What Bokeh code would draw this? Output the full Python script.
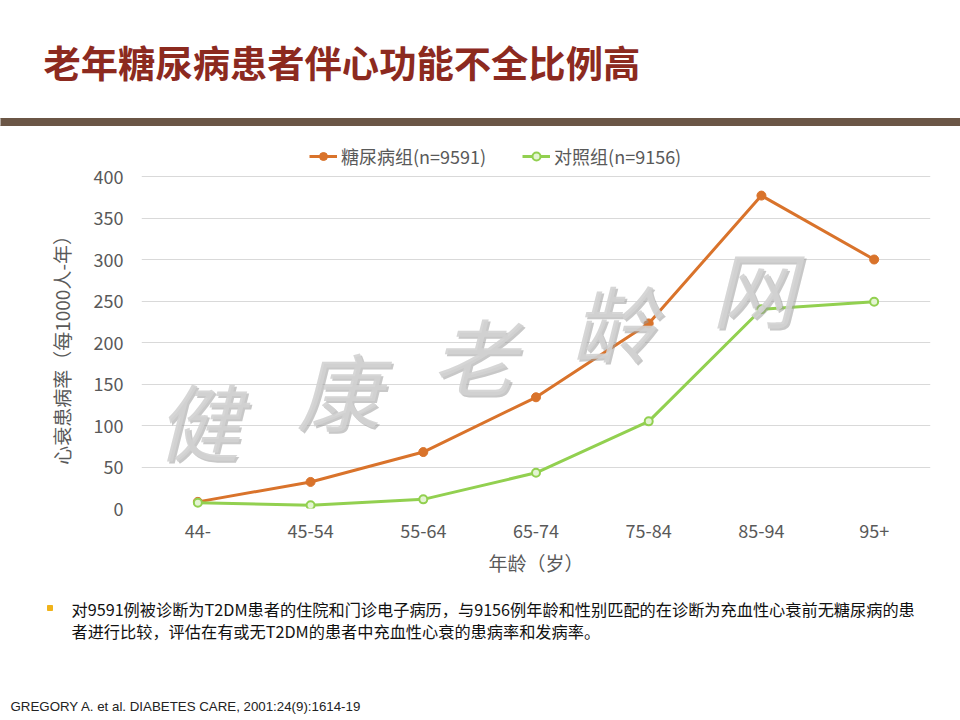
from bokeh.plotting import figure
from bokeh.models import (Range1d, FactorRange, Label, Legend, LegendItem,
                          ColumnDataSource, FixedTicker)
from bokeh.layouts import column
from bokeh.embed import file_html
from bokeh.resources import INLINE

# ---------------- data ----------------
categories = ["44-", "45-54", "55-64", "65-74", "75-84", "85-94", "95+"]
diabetes = [8, 32, 68, 134, 223, 377, 300]
control = [7, 4, 11, 43, 105, 240, 249]
y_ticks = [0, 50, 100, 150, 200, 250, 300, 350, 400]
series_names = ["糖尿病组(n=9591)", "对照组(n=9156)"]

title_text = "老年糖尿病患者伴心功能不全比例高"
y_label = "心衰患病率（每1000人-年）"
x_label = "年龄（岁）"
note_lines = [
    "对9591例被诊断为T2DM患者的住院和门诊电子病历，与9156例年龄和性别匹配的在诊断为充血性心衰前无糖尿病的患",
    "者进行比较，评估在有或无T2DM的患者中充血性心衰的患病率和发病率。",
]
citation = "GREGORY A. et al. DIABETES CARE, 2001:24(9):1614-19"
watermark_chars = ["健", "康", "老", "龄", "网"]

# ---------------- styles ----------------
W = 960
CJK = "Noto Sans CJK SC"
ORANGE = "#D9732B"
GREEN = "#92D050"
TXT = "#595959"


def base(fig):
    fig.outline_line_color = None
    fig.background_fill_color = "white"
    fig.border_fill_color = "white"
    if "frame_align" in fig.properties():
        fig.frame_align = False


def blank(fig):
    base(fig)
    fig.axis.visible = False
    fig.grid.visible = False


# ---------------- header ----------------
H1 = 130
header = figure(width=W, height=H1, x_range=Range1d(0, W), y_range=Range1d(H1, 0),
                output_backend="svg", toolbar_location=None, min_border=0)
blank(header)
header.quad(left=-5, right=W + 5, top=118, bottom=125, color="#6B5646")
header.add_layout(Label(x=43, y=61, text=title_text, text_font=CJK,
                        text_font_size="37.3px", text_font_style="bold",
                        text_color="#8C2A1F", text_baseline="middle"))

# ---------------- chart ----------------
H2 = 455
FRAME_H = 378           # frame spans from the top of this figure to the zero line
GRID_H = 332            # pixel height of 0..400
p = figure(width=W, height=H2, x_range=FactorRange(*categories),
           y_range=Range1d(0, 400 * FRAME_H / GRID_H),
           output_backend="svg", toolbar_location=None,
           min_border_left=141, min_border_right=30, min_border_top=0,
           min_border_bottom=H2 - FRAME_H)
base(p)

src = ColumnDataSource(dict(cat=categories, d=diabetes, c=control))
l1 = p.line("cat", "d", source=src, line_color=ORANGE, line_width=3)
m1 = p.scatter("cat", "d", source=src, size=9, fill_color=ORANGE, line_color=ORANGE)
l2 = p.line("cat", "c", source=src, line_color=GREEN, line_width=3)
m2 = p.scatter("cat", "c", source=src, size=8, fill_color="#E4F4D3", line_color=GREEN,
               line_width=2)

p.yaxis.ticker = FixedTicker(ticks=y_ticks)
p.ygrid.ticker = FixedTicker(ticks=y_ticks)
p.ygrid.grid_line_color = "#D9D9D9"
p.xgrid.visible = False
for ax in (p.xaxis, p.yaxis):
    ax.axis_line_color = None
    ax.major_tick_line_color = None
    ax.minor_tick_line_color = None
    ax.major_label_text_font = CJK
    ax.major_label_text_font_size = "18px"
    ax.major_label_text_color = TXT
    ax.axis_label_text_font = CJK
    ax.axis_label_text_font_size = "19px"
    ax.axis_label_text_font_style = "normal"
    ax.axis_label_text_color = TXT
# trailing ideographic spaces keep the rotated title centred on the 0-400 band
p.yaxis.axis_label = y_label + "\u3000\u3000\u3000 "
p.xaxis.axis_label = x_label
p.yaxis.major_label_standoff = 12
p.yaxis.axis_label_standoff = 16
p.xaxis.major_label_standoff = 9
p.xaxis.axis_label_standoff = 8

legend = Legend(items=[LegendItem(label=series_names[0], renderers=[l1, m1]),
                       LegendItem(label=series_names[1], renderers=[l2, m2])],
                orientation="horizontal", location=(168, FRAME_H - 39),
                label_text_font=CJK, label_text_font_size="18px",
                label_text_color=TXT, glyph_width=28, glyph_height=20,
                label_standoff=4, spacing=36, padding=4, margin=0,
                border_line_color=None, background_fill_alpha=0)
p.add_layout(legend, "center")

# watermark (decoration), positions relative to the plot frame
wm_pos = [(57, 90), (197, 120), (332, 155), (472, 188), (612, 223)]
for ch, (sx, sy) in zip(watermark_chars, wm_pos):
    p.add_layout(Label(x=sx + 2, y=sy - 2, x_units="screen", y_units="screen", text=ch,
                       text_font=CJK, text_font_size="84px", text_font_style="italic",
                       text_color="#9A9A9A", text_alpha=0.55, text_align="center",
                       text_baseline="middle"))
    p.add_layout(Label(x=sx, y=sy, x_units="screen", y_units="screen", text=ch,
                       text_font=CJK, text_font_size="84px", text_font_style="italic",
                       text_color="#D2D2D2", text_alpha=0.9, text_align="center",
                       text_baseline="middle"))

# ---------------- footer ----------------
H3 = 720 - H1 - H2
footer = figure(width=W, height=H3, x_range=Range1d(0, W), y_range=Range1d(H3, 0),
                output_backend="svg", toolbar_location=None, min_border=0)
blank(footer)
footer.quad(left=47, right=52, top=20, bottom=25, color="#F0B31A")
for i, line in enumerate(note_lines):
    footer.add_layout(Label(x=71, y=23 + 22 * i, text=line, text_font=CJK,
                            text_font_size="16.2px", text_color="#111111",
                            text_baseline="middle"))
footer.add_layout(Label(x=10, y=121, text=citation, text_font="Liberation Sans",
                        text_font_size="13.3px", text_color="#222222",
                        text_baseline="middle"))

layout = column(header, p, footer, spacing=0)
open("out.html", "w").write(file_html(layout, INLINE))
